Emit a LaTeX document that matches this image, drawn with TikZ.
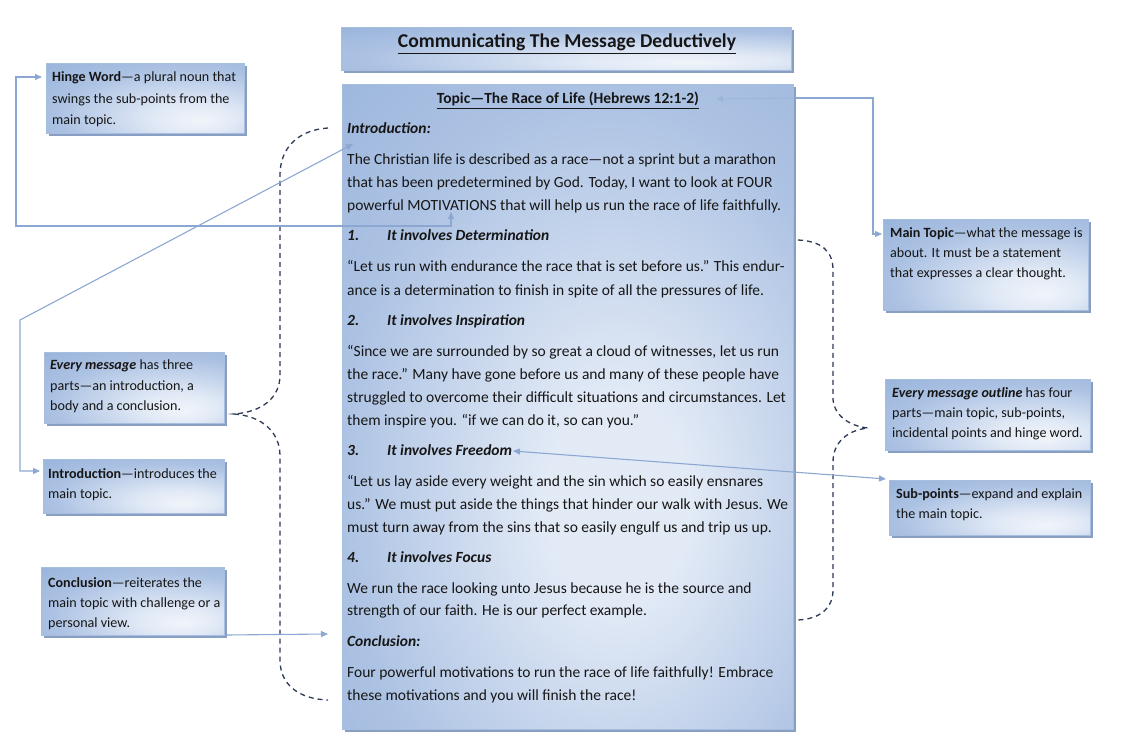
\documentclass[tikz,border=0pt]{standalone}
\usepackage{fontspec}
\setmainfont{Carlito}
\usetikzlibrary{arrows.meta,shadows}
\definecolor{pdark}{RGB}{139,169,213}
\definecolor{pmid}{RGB}{172,194,227}
\definecolor{plight}{RGB}{226,234,246}
\definecolor{pline}{RGB}{168,190,222}
\definecolor{pshadow}{RGB}{136,158,194}
\definecolor{conn}{RGB}{140,168,210}
\definecolor{bracec}{RGB}{44,58,86}
\definecolor{ink}{RGB}{22,22,22}
\pgfdeclareradialshading{mainshade}{\pgfpoint{6bp}{-8bp}}{color(0bp)=(plight); color(8bp)=(plight); color(30bp)=(pmid); color(56bp)=(pdark); color(100bp)=(pdark)}
\pgfdeclareradialshading{smallshade}{\pgfpoint{14bp}{-16bp}}{color(0bp)=(plight!50!white); color(10bp)=(plight); color(32bp)=(pmid); color(58bp)=(pdark); color(100bp)=(pdark)}
\begin{document}
\begin{tikzpicture}[x=1pt,y=-1pt,
  panel/.style={draw=pline, line width=0.8pt, shading=smallshade,
     drop shadow={shadow xshift=3pt, shadow yshift=-3pt, fill=pshadow, opacity=1}, inner sep=0pt, anchor=north west},
  mainpanel/.style={panel, shading=mainshade},
  mtext/.style={anchor=base west, inner sep=0pt, text=ink, font=\fontsize{15.5}{18}\selectfont},
  btext/.style={anchor=base west, inner sep=0pt, text=ink, font=\fontsize{14.1}{16}\selectfont},
  conn/.style={draw=conn, line width=1.1pt, {Triangle[width=6pt,length=7pt]}-{Triangle[width=6pt,length=7pt]}},
  conn1/.style={draw=conn, line width=1.1pt, -{Triangle[width=6pt,length=7pt]}},
  bracedash/.style={draw=bracec, line width=1.3pt, dash pattern=on 5pt off 4pt}]
\useasboundingbox (0,0) rectangle (1128,738);
\fill[white] (0,0) rectangle (1128,738);

% panels
\node[panel, minimum width=450pt, minimum height=43pt] (title) at (341,27) {};
\node[mainpanel, minimum width=451pt, minimum height=645pt] (main) at (342,84) {};
\node[panel, minimum width=198pt, minimum height=70pt] (hinge) at (46,63) {};
\node[panel, minimum width=180pt, minimum height=71pt] (every) at (44,352) {};
\node[panel, minimum width=181pt, minimum height=54pt] (intro) at (43,459) {};
\node[panel, minimum width=183pt, minimum height=68pt] (concl) at (41,567) {};
\node[panel, minimum width=205pt, minimum height=91pt] (topicbox) at (883,219) {};
\node[panel, minimum width=205pt, minimum height=71pt] (outline) at (885,379) {};
\node[panel, minimum width=201pt, minimum height=55pt] (subpts) at (889,480) {};

% title
\node[anchor=base, inner sep=0pt, text=ink, font=\fontsize{19.6}{22}\selectfont\bfseries] (titleT) at (567,48) {\underline{Communicating The Message Deductively}};

% main text
\node[anchor=base, inner sep=0pt, text=ink, font=\fontsize{15.5}{18}\selectfont\bfseries] (topicT) at (568,104) {\underline{Topic—The Race of Life (Hebrews 12:1-2)}};
\foreach \yy/\txt [count=\k] in {
 134/{\textbf{\textit{Introduction:}}},
 165/{The Christian life is described as a race—not a sprint but a marathon},
 188/{that has been predetermined by God. Today, I want to look at FOUR},
 211/{powerful MOTIVATIONS that will help us run the race of life faithfully.},
 241/{\textbf{\textit{\makebox[40pt][l]{1.}It involves Determination}}},
 272/{“Let us run with endurance the race that is set before us.” This endur-},
 295/{ance is a determination to finish in spite of all the pressures of life.},
 326/{\textbf{\textit{\makebox[40pt][l]{2.}It involves Inspiration}}},
 356/{“Since we are surrounded by so great a cloud of witnesses, let us run},
 379/{the race.” Many have gone before us and many of these people have},
 402/{struggled to overcome their difficult situations and circumstances. Let},
 425/{them inspire you. “if we can do it, so can you.”},
 455/{\textbf{\textit{\makebox[40pt][l]{3.}It involves Freedom}}},
 486/{“Let us lay aside every weight and the sin which so easily ensnares},
 509/{us.” We must put aside the things that hinder our walk with Jesus. We},
 532/{must turn away from the sins that so easily engulf us and trip us up.},
 562/{\textbf{\textit{\makebox[40pt][l]{4.}It involves Focus}}},
 593/{We run the race looking unto Jesus because he is the source and},
 615/{strength of our faith. He is our perfect example.},
 646/{\textbf{\textit{Conclusion:}}},
 677/{Four powerful motivations to run the race of life faithfully! Embrace},
 700/{these motivations and you will finish the race!}}
  \node[mtext] (m\k) at (347,\yy) {\txt};

% box texts
\node[btext] (hinge1) at (52,82) {\textbf{Hinge Word}—a plural noun that};
\node[btext] (hinge2) at (52,103.5) {swings the sub-points from the};
\node[btext] (hinge3) at (52,125) {main topic.};
\node[btext] (every1) at (50,370) {\textbf{\textit{Every message}} has three};
\node[btext] (every2) at (50,390) {parts—an introduction, a};
\node[btext] (every3) at (50,410) {body and a conclusion.};
\node[btext] (intro1) at (48,478) {\textbf{Introduction}—introduces the};
\node[btext] (intro2) at (48,498) {main topic.};
\node[btext] (concl1) at (48,587) {\textbf{Conclusion}—reiterates the};
\node[btext] (concl2) at (48,607) {main topic with challenge or a};
\node[btext] (concl3) at (48,627) {personal view.};
\node[btext] (topic1) at (890,238) {\textbf{Main Topic}—what the message is};
\node[btext] (topic2) at (890,258) {about. It must be a statement};
\node[btext] (topic3) at (890,278) {that expresses a clear thought.};
\node[btext] (outl1) at (892,397) {\textbf{\textit{Every message outline}} has four};
\node[btext] (outl2) at (892,417) {parts—main topic, sub-points,};
\node[btext] (outl3) at (892,437) {incidental points and hinge word.};
\node[btext] (sub1) at (896,498) {\textbf{Sub-points}—expand and explain};
\node[btext] (sub2) at (896,518) {the main topic.};

% connector end points
\coordinate (motiv) at (451,212);
\coordinate (hingeIn) at (42,77);
\coordinate (introTxt) at (353,144);
\coordinate (introIn) at (40,471);
\coordinate (topicEnd) at (716,99);
\coordinate (topicEdge) at (795,98);
\coordinate (topicIn) at (882,234);
\coordinate (freedom) at (513,451);
\coordinate (subIn) at (886,479);
\coordinate (conclOut) at (227,635);
\coordinate (conclIn) at (328,634);

% dashed braces
\draw[bracedash] (328,128) .. controls (298,130) and (280,148) .. (280,175) -- (280,375)
   .. controls (280,398) and (262,412) .. (234,414)
   .. controls (262,416) and (280,432) .. (280,456) -- (280,660)
   .. controls (280,684) and (298,699) .. (328,700);
\draw[bracedash] (798,240) .. controls (820,241) and (833,250) .. (833,270) -- (833,398)
   .. controls (833,414) and (848,426) .. (868,428)
   .. controls (848,430) and (833,442) .. (833,462) -- (833,590)
   .. controls (833,608) and (820,619) .. (798,620);

% connectors
\draw[conn] (motiv) -- (451,226) -- (16,226) -- (16,77) -- (hingeIn);
\draw[conn] (introTxt) -- (20,320) -- (20,471) -- (introIn);
\draw[conn1, opacity=0.35] (topicEdge) -- (topicEnd);
\draw[conn1] (topicEdge) -- (873,98) -- (873,234) -- (topicIn);
\draw[conn] (freedom) -- (subIn);
\draw[conn1] (conclOut) -- (conclIn);
\end{tikzpicture}
\end{document}
